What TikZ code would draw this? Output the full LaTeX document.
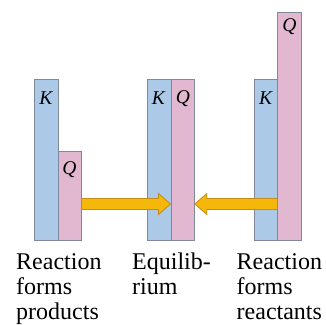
\documentclass[tikz,border=0pt]{standalone}
\usepackage{fontspec}
\setmainfont{Liberation Serif}
\usetikzlibrary{calc}
\begin{document}
\begin{tikzpicture}[x=1pt,y=-1pt,
  bar/.style={draw=barline, line width=0.8pt, inner sep=0pt, anchor=north west, minimum width=23.5pt},
  kbar/.style={bar, fill=kblue},
  qbar/.style={bar, fill=qpink},
  lbl/.style={font=\rmfamily\fontsize{19.5}{19.5}\selectfont\itshape, inner sep=0pt},
  captxt/.style={font=\rmfamily\fontsize{24}{25}\selectfont, align=left, inner sep=0pt, anchor=base west},
  fatarrow/.style={fill=arrowfill, draw=arrowline, line width=0.8pt, line join=miter}]
\definecolor{kblue}{RGB}{172,201,232}
\definecolor{qpink}{RGB}{226,184,208}
\definecolor{barline}{RGB}{128,136,158}
\definecolor{arrowfill}{RGB}{245,184,10}
\definecolor{arrowline}{RGB}{196,140,20}
\useasboundingbox (0,0) rectangle (326,324);
% left pair
\node[kbar, minimum height=161pt] (lk) at (34,79) {};
\node[qbar, minimum height=89pt] (lq) at (57.5,151) {};
% middle pair
\node[kbar, minimum height=161pt] (mk) at (147,79) {};
\node[qbar, minimum height=161pt] (mq) at (170.5,79) {};
% right pair
\node[kbar, minimum height=161pt] (rk) at (253.5,79) {};
\node[qbar, minimum height=228.5pt] (rq) at (277,11.5) {};
% labels
\node[lbl] (lkl) at (46,98.5) {K};
\node[lbl] (lql) at (69.5,170) {Q};
\node[lbl] (mkl) at (158.5,98.5) {K};
\node[lbl] (mql) at (183,98.5) {Q};
\node[lbl] (rkl) at (265.5,98.5) {K};
\node[lbl] (rql) at (289.5,27) {Q};
% arrows
\coordinate (la) at (lq.east |- 0,204);
\coordinate (lt) at (mq.west |- 0,204);
\draw[fatarrow] ($(la)+(0,-5.5)$) -- ($(lt)+(-12,-5.5)$) -- ($(lt)+(-12,-10.5)$) -- (lt)
  -- ($(lt)+(-12,10.5)$) -- ($(lt)+(-12,5.5)$) -- ($(la)+(0,5.5)$);
\coordinate (ra) at (rq.west |- 0,204);
\coordinate (rt) at (mq.east |- 0,204);
\draw[fatarrow] ($(ra)+(0,-5.5)$) -- ($(rt)+(12,-5.5)$) -- ($(rt)+(12,-10.5)$) -- (rt)
  -- ($(rt)+(12,10.5)$) -- ($(rt)+(12,5.5)$) -- ($(ra)+(0,5.5)$);
% captions (base anchor = last line baseline)
\node[captxt] (c1) at (16,319) {Reaction\\forms\\products};
\node[captxt] (c2) at (132,294) {Equilib-\\rium};
\node[captxt] (c3) at (236.5,319) {Reaction\\forms\\reactants};
\end{tikzpicture}
\end{document}
